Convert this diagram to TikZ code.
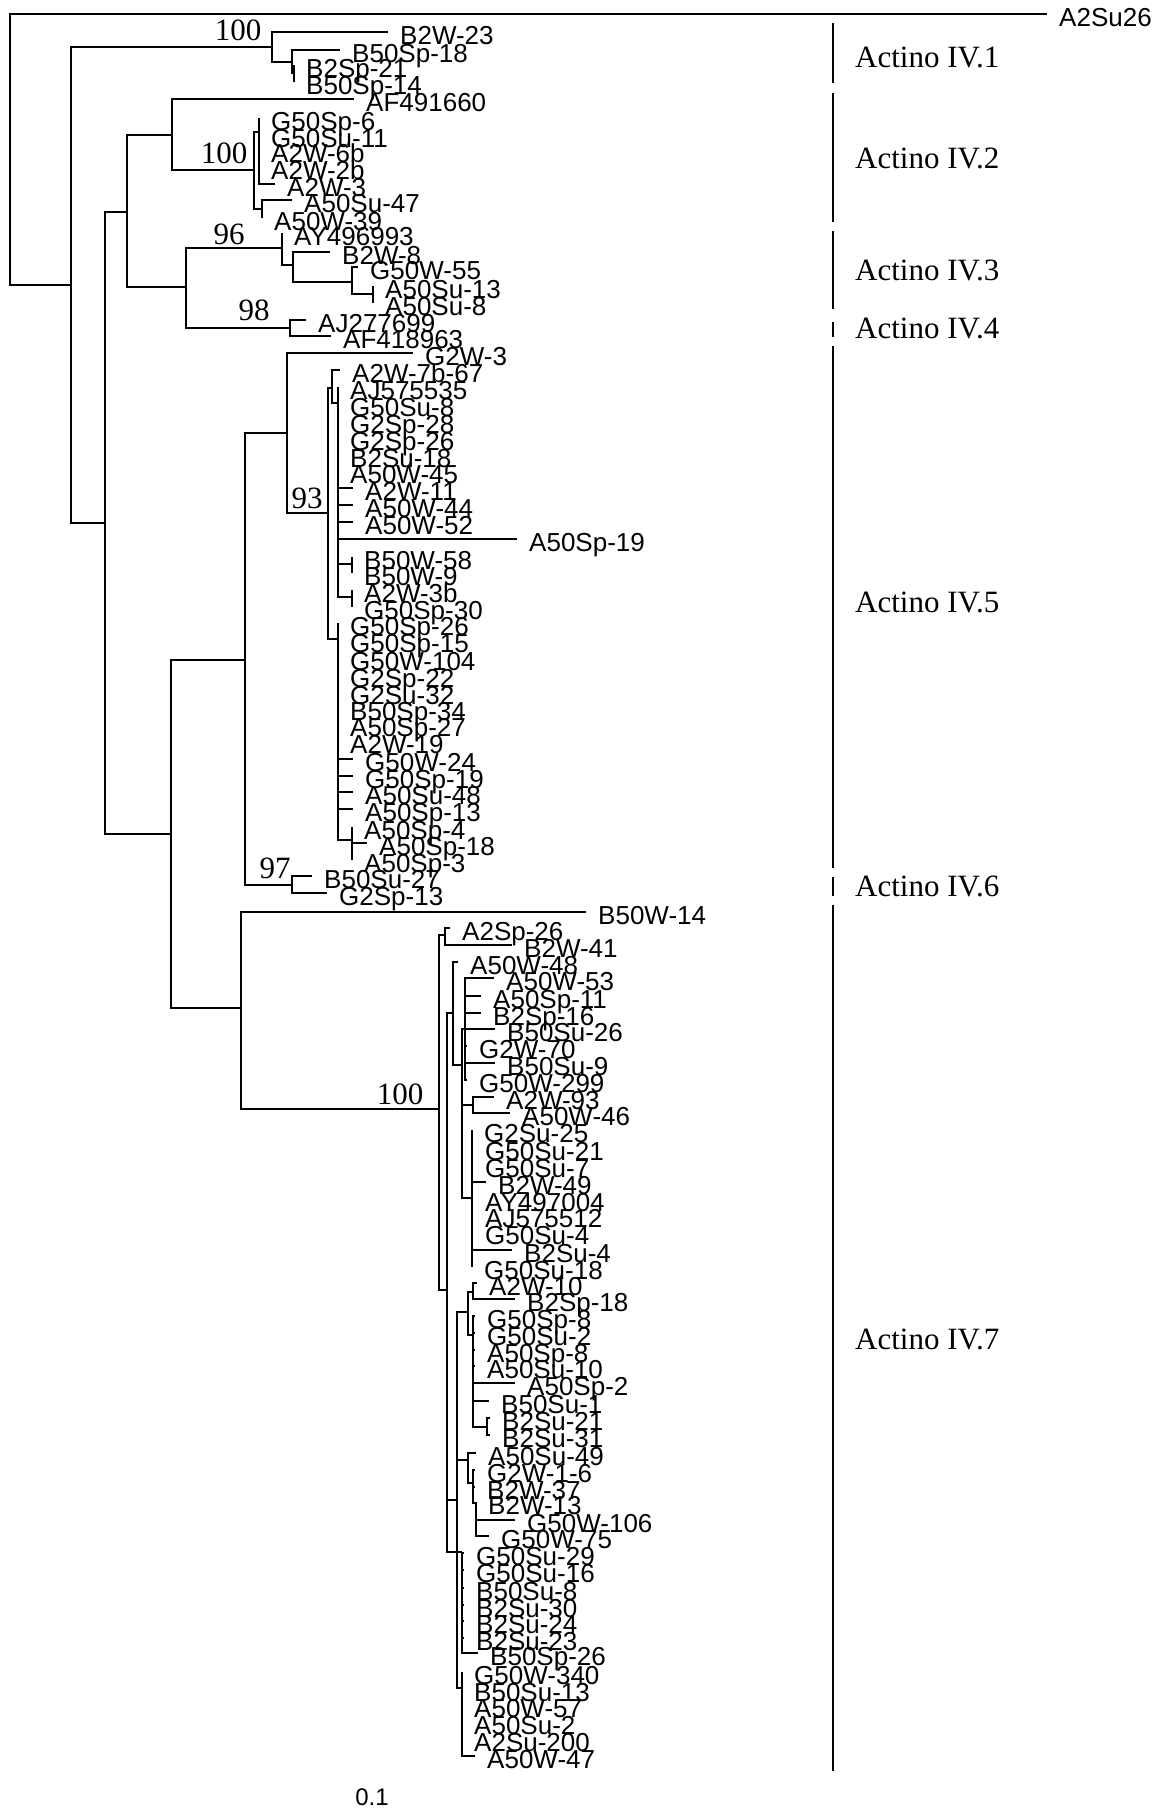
\documentclass[tikz,border=0pt]{standalone}
\usepackage{fontspec}
\setmainfont{Liberation Serif}
\setsansfont{Liberation Sans}
% parent, tip x, tip y, name
\newcommand{\taxon}[4]{%
  \coordinate (#4) at (#2,#3);
  \draw[branch] (#1) |- (#4);
  \node[taxlabel] (#4-l) at (#2+12,#3+3) {#4};
}
\begin{document}
\begin{tikzpicture}[x=1pt,y=-1pt,
  branch/.style={line width=1.9pt},
  taxlabel/.style={anchor=west,inner sep=0pt,text height=18.5pt,text depth=0pt,font=\sffamily\fontsize{26}{26}\selectfont},
  boot/.style={inner sep=0pt,text height=21pt,text depth=0pt,font=\fontsize{31}{31}\selectfont},
  clade/.style={anchor=west,inner sep=0pt,text height=21pt,text depth=0pt,font=\fontsize{31}{31}\selectfont},
  cladebar/.style={line width=2pt}]
\useasboundingbox (0,0) rectangle (1155,1809);

\coordinate (rt) at (10,150);
\coordinate (n1) at (71,285);
\coordinate (na) at (105,523);
\coordinate (nb) at (127,212);
\coordinate (nc) at (171,834);
\draw[branch] (rt) |- (n1);
\draw[branch] (n1) |- (na);
\draw[branch] (na) |- (nb);
\draw[branch] (na) |- (nc);
\taxon{rt}{1047}{14}{A2Su26}

% Actino IV.1
\coordinate (iv1) at (272,47);
\coordinate (iv1a) at (292,62);
\coordinate (iv1b) at (294,73);
\draw[branch] (n1) |- (iv1);
\draw[branch] (iv1) |- (iv1a);
\draw[branch] (iv1a) |- (iv1b);
\taxon{iv1}{388}{32}{B2W-23}
\taxon{iv1a}{340}{50}{B50Sp-18}
\taxon{iv1b}{294}{65}{B2Sp-21}
\taxon{iv1b}{294}{82}{B50Sp-14}

% Actino IV.2
\coordinate (iv2) at (172,135);
\coordinate (iv2a) at (254,170);
\coordinate (iv2b) at (259,132);
\coordinate (iv2c) at (262,209);
\draw[branch] (nb) |- (iv2);
\draw[branch] (iv2) |- (iv2a);
\draw[branch] (iv2a) |- (iv2b);
\draw[branch] (iv2a) |- (iv2c);
\taxon{iv2}{354}{99}{AF491660}
\taxon{iv2b}{259}{118}{G50Sp-6}
\taxon{iv2b}{259}{135}{G50Su-11}
\taxon{iv2b}{259}{150}{A2W-6b}
\taxon{iv2b}{259}{167}{A2W-2b}
\taxon{iv2b}{275}{184}{A2W-3}
\taxon{iv2c}{292}{200}{A50Su-47}
\taxon{iv2c}{262}{218}{A50W-39}

% Actino IV.3 and IV.4
\coordinate (iv34) at (186,287);
\coordinate (iv3) at (282,248);
\coordinate (iv3a) at (293,265);
\coordinate (iv3b) at (352,282);
\coordinate (iv3c) at (373,294);
\coordinate (iv4) at (290,328);
\draw[branch] (nb) |- (iv34);
\draw[branch] (iv34) |- (iv3);
\draw[branch] (iv3) |- (iv3a);
\draw[branch] (iv3a) |- (iv3b);
\draw[branch] (iv3b) |- (iv3c);
\draw[branch] (iv34) |- (iv4);
\taxon{iv3}{282}{233}{AY496993}
\taxon{iv3a}{330}{252}{B2W-8}
\taxon{iv3b}{358}{267}{G50W-55}
\taxon{iv3c}{373}{286}{A50Su-13}
\taxon{iv3c}{373}{303}{A50Su-8}
\taxon{iv4}{306}{320}{AJ277699}
\taxon{iv4}{331}{336}{AF418963}

% Actino IV.5 and IV.6
\coordinate (iv56) at (245,660);
\coordinate (iv5) at (287,433);
\coordinate (iv5a) at (328,513);
\coordinate (iv5b) at (332,388);
\coordinate (iv5c) at (338,403);
\coordinate (iv5d) at (338,639);
\coordinate (iv5e) at (352,564);
\coordinate (iv5f) at (352,597);
\coordinate (iv5g) at (352,840);
\coordinate (iv6) at (292,885);
\draw[branch] (nc) |- (iv56);
\draw[branch] (iv56) |- (iv5);
\draw[branch] (iv5) |- (iv5a);
\draw[branch] (iv5a) |- (iv5b);
\draw[branch] (iv5b) |- (iv5c);
\draw[branch] (iv5a) |- (iv5d);
\draw[branch] (iv5c) |- (iv5e);
\draw[branch] (iv5c) |- (iv5f);
\draw[branch] (iv5d) |- (iv5g);
\draw[branch] (iv56) |- (iv6);
\taxon{iv5}{413}{353}{G2W-3}
\taxon{iv5b}{340}{370}{A2W-7b-67}
\taxon{iv5c}{338}{387}{AJ575535}
\taxon{iv5c}{338}{404}{G50Su-8}
\taxon{iv5c}{338}{421}{G2Sp-28}
\taxon{iv5c}{338}{438}{G2Sp-26}
\taxon{iv5c}{338}{455}{B2Su-18}
\taxon{iv5c}{338}{471}{A50W-45}
\taxon{iv5c}{353}{488}{A2W-11}
\taxon{iv5c}{353}{505}{A50W-44}
\taxon{iv5c}{353}{522}{A50W-52}
\taxon{iv5c}{517}{539}{A50Sp-19}
\taxon{iv5e}{352}{557}{B50W-58}
\taxon{iv5e}{352}{573}{B50W-9}
\taxon{iv5f}{352}{590}{A2W-3b}
\taxon{iv5f}{352}{607}{G50Sp-30}
\taxon{iv5d}{338}{623}{G50Sp-26}
\taxon{iv5d}{338}{640}{G50Sp-15}
\taxon{iv5d}{338}{658}{G50W-104}
\taxon{iv5d}{338}{675}{G2Sp-22}
\taxon{iv5d}{338}{692}{G2Su-32}
\taxon{iv5d}{338}{708}{B50Sp-34}
\taxon{iv5d}{338}{724}{A50Sp-27}
\taxon{iv5d}{338}{741}{A2W-19}
\taxon{iv5d}{353}{759}{G50W-24}
\taxon{iv5d}{353}{776}{G50Sp-19}
\taxon{iv5d}{353}{792}{A50Su-48}
\taxon{iv5d}{353}{809}{A50Sp-13}
\taxon{iv5g}{352}{827}{A50Sp-4}
\taxon{iv5g}{367}{843}{A50Sp-18}
\taxon{iv5g}{352}{860}{A50Sp-3}
\taxon{iv6}{312}{876}{B50Su-27}
\taxon{iv6}{327}{893}{G2Sp-13}

% Actino IV.7
\coordinate (iv7) at (241,1008);
\coordinate (iv7r) at (439,1109);
\coordinate (n7a) at (445,935);
\coordinate (n7b) at (447,1290);
\coordinate (n7c) at (453,1013);
\coordinate (n7d) at (462,1065);
\coordinate (n7e) at (465,1029);
\coordinate (n7f) at (473,1105);
\coordinate (n7g) at (472,1198);
\coordinate (n7h) at (457,1500);
\coordinate (n7i) at (468,1312);
\coordinate (n7j) at (473,1292);
\coordinate (n7l) at (473,1335);
\coordinate (n7m) at (487,1427);
\coordinate (n7n) at (468,1460);
\coordinate (n7o) at (473,1483);
\coordinate (n7p) at (476,1503);
\coordinate (n7k) at (462,1552);
\coordinate (n7q) at (462,1688);
\draw[branch] (nc) |- (iv7);
\draw[branch] (iv7) |- (iv7r);
\draw[branch] (iv7r) |- (n7a);
\draw[branch] (iv7r) |- (n7b);
\draw[branch] (n7b) |- (n7c);
\draw[branch] (n7c) |- (n7d);
\draw[branch] (n7d) |- (n7e);
\draw[branch] (n7d) |- (n7f);
\draw[branch] (n7d) |- (n7g);
\draw[branch] (n7b) |- (n7h);
\draw[branch] (n7h) |- (n7i);
\draw[branch] (n7i) |- (n7j);
\draw[branch] (n7i) |- (n7l);
\draw[branch] (n7l) |- (n7m);
\draw[branch] (n7h) |- (n7n);
\draw[branch] (n7n) |- (n7o);
\draw[branch] (n7o) |- (n7p);
\draw[branch] (n7b) |- (n7k);
\draw[branch] (n7h) |- (n7q);
\taxon{iv7}{586}{912}{B50W-14}
\taxon{n7a}{450}{928}{A2Sp-26}
\taxon{n7a}{512}{945}{B2W-41}
\taxon{n7c}{458}{962}{A50W-48}
\taxon{n7e}{494}{978}{A50W-53}
\taxon{n7e}{481}{996}{A50Sp-11}
\taxon{n7e}{481}{1013}{B2Sp-16}
\taxon{n7e}{495}{1029}{B50Su-26}
\taxon{n7e}{467}{1046}{G2W-70}
\taxon{n7e}{495}{1063}{B50Su-9}
\taxon{n7e}{467}{1080}{G50W-299}
\taxon{n7f}{494}{1097}{A2W-93}
\taxon{n7f}{510}{1113}{A50W-46}
\taxon{n7g}{472}{1130}{G2Su-25}
\taxon{n7g}{473}{1148}{G50Su-21}
\taxon{n7g}{473}{1165}{G50Su-7}
\taxon{n7g}{486}{1182}{B2W-49}
\taxon{n7g}{473}{1199}{AY497004}
\taxon{n7g}{473}{1215}{AJ575512}
\taxon{n7g}{473}{1232}{G50Su-4}
\taxon{n7g}{512}{1250}{B2Su-4}
\taxon{n7g}{472}{1267}{G50Su-18}
\taxon{n7j}{477}{1283}{A2W-10}
\taxon{n7j}{515}{1299}{B2Sp-18}
\taxon{n7l}{475}{1316}{G50Sp-8}
\taxon{n7l}{475}{1333}{G50Su-2}
\taxon{n7l}{475}{1350}{A50Sp-8}
\taxon{n7l}{475}{1366}{A50Su-10}
\taxon{n7l}{515}{1383}{A50Sp-2}
\taxon{n7l}{489}{1401}{B50Su-1}
\taxon{n7m}{490}{1418}{B2Su-21}
\taxon{n7m}{490}{1435}{B2Su-31}
\taxon{n7n}{476}{1453}{A50Su-49}
\taxon{n7o}{475}{1470}{G2W-1-6}
\taxon{n7o}{475}{1487}{B2W-37}
\taxon{n7p}{476}{1502}{B2W-13}
\taxon{n7p}{515}{1520}{G50W-106}
\taxon{n7p}{489}{1536}{G50W-75}
\taxon{n7k}{464}{1553}{G50Su-29}
\taxon{n7k}{464}{1570}{G50Su-16}
\taxon{n7k}{464}{1588}{B50Su-8}
\taxon{n7k}{464}{1605}{B2Su-30}
\taxon{n7k}{464}{1621}{B2Su-24}
\taxon{n7k}{464}{1638}{B2Su-23}
\taxon{n7k}{478}{1653}{B50Sp-26}
\taxon{n7q}{462}{1672}{G50W-340}
\taxon{n7q}{462}{1689}{B50Su-13}
\taxon{n7q}{462}{1705}{A50W-57}
\taxon{n7q}{462}{1722}{A50Su-2}
\taxon{n7q}{462}{1739}{A2Su-200}
\taxon{n7q}{475}{1756}{A50W-47}

% bootstrap values
\node[boot] (bs1) at (238,30) {100};
\node[boot] (bs2) at (224,153) {100};
\node[boot] (bs3) at (229,234) {96};
\node[boot] (bs4) at (254,310) {98};
\node[boot] (bs5) at (307,498) {93};
\node[boot] (bs6) at (275,868) {97};
\node[boot] (bs7) at (400,1094) {100};

% clades
\draw[cladebar] (833,23) -- (833,83);
\draw[cladebar] (833,93) -- (833,222);
\draw[cladebar] (833,231) -- (833,309);
\draw[cladebar] (833,322) -- (833,337);
\draw[cladebar] (833,346) -- (833,868);
\draw[cladebar] (833,877) -- (833,896);
\draw[cladebar] (833,905) -- (833,1771);
\node[clade] (c1) at (855,57) {Actino IV.1};
\node[clade] (c2) at (855,158) {Actino IV.2};
\node[clade] (c3) at (855,270) {Actino IV.3};
\node[clade] (c4) at (855,328) {Actino IV.4};
\node[clade] (c5) at (855,602) {Actino IV.5};
\node[clade] (c6) at (855,886) {Actino IV.6};
\node[clade] (c7) at (855,1339) {Actino IV.7};

\node[inner sep=0pt,text height=17pt,text depth=0pt,font=\sffamily\fontsize{24}{24}\selectfont] (scale) at (372,1797) {0.1};
\end{tikzpicture}
\end{document}
